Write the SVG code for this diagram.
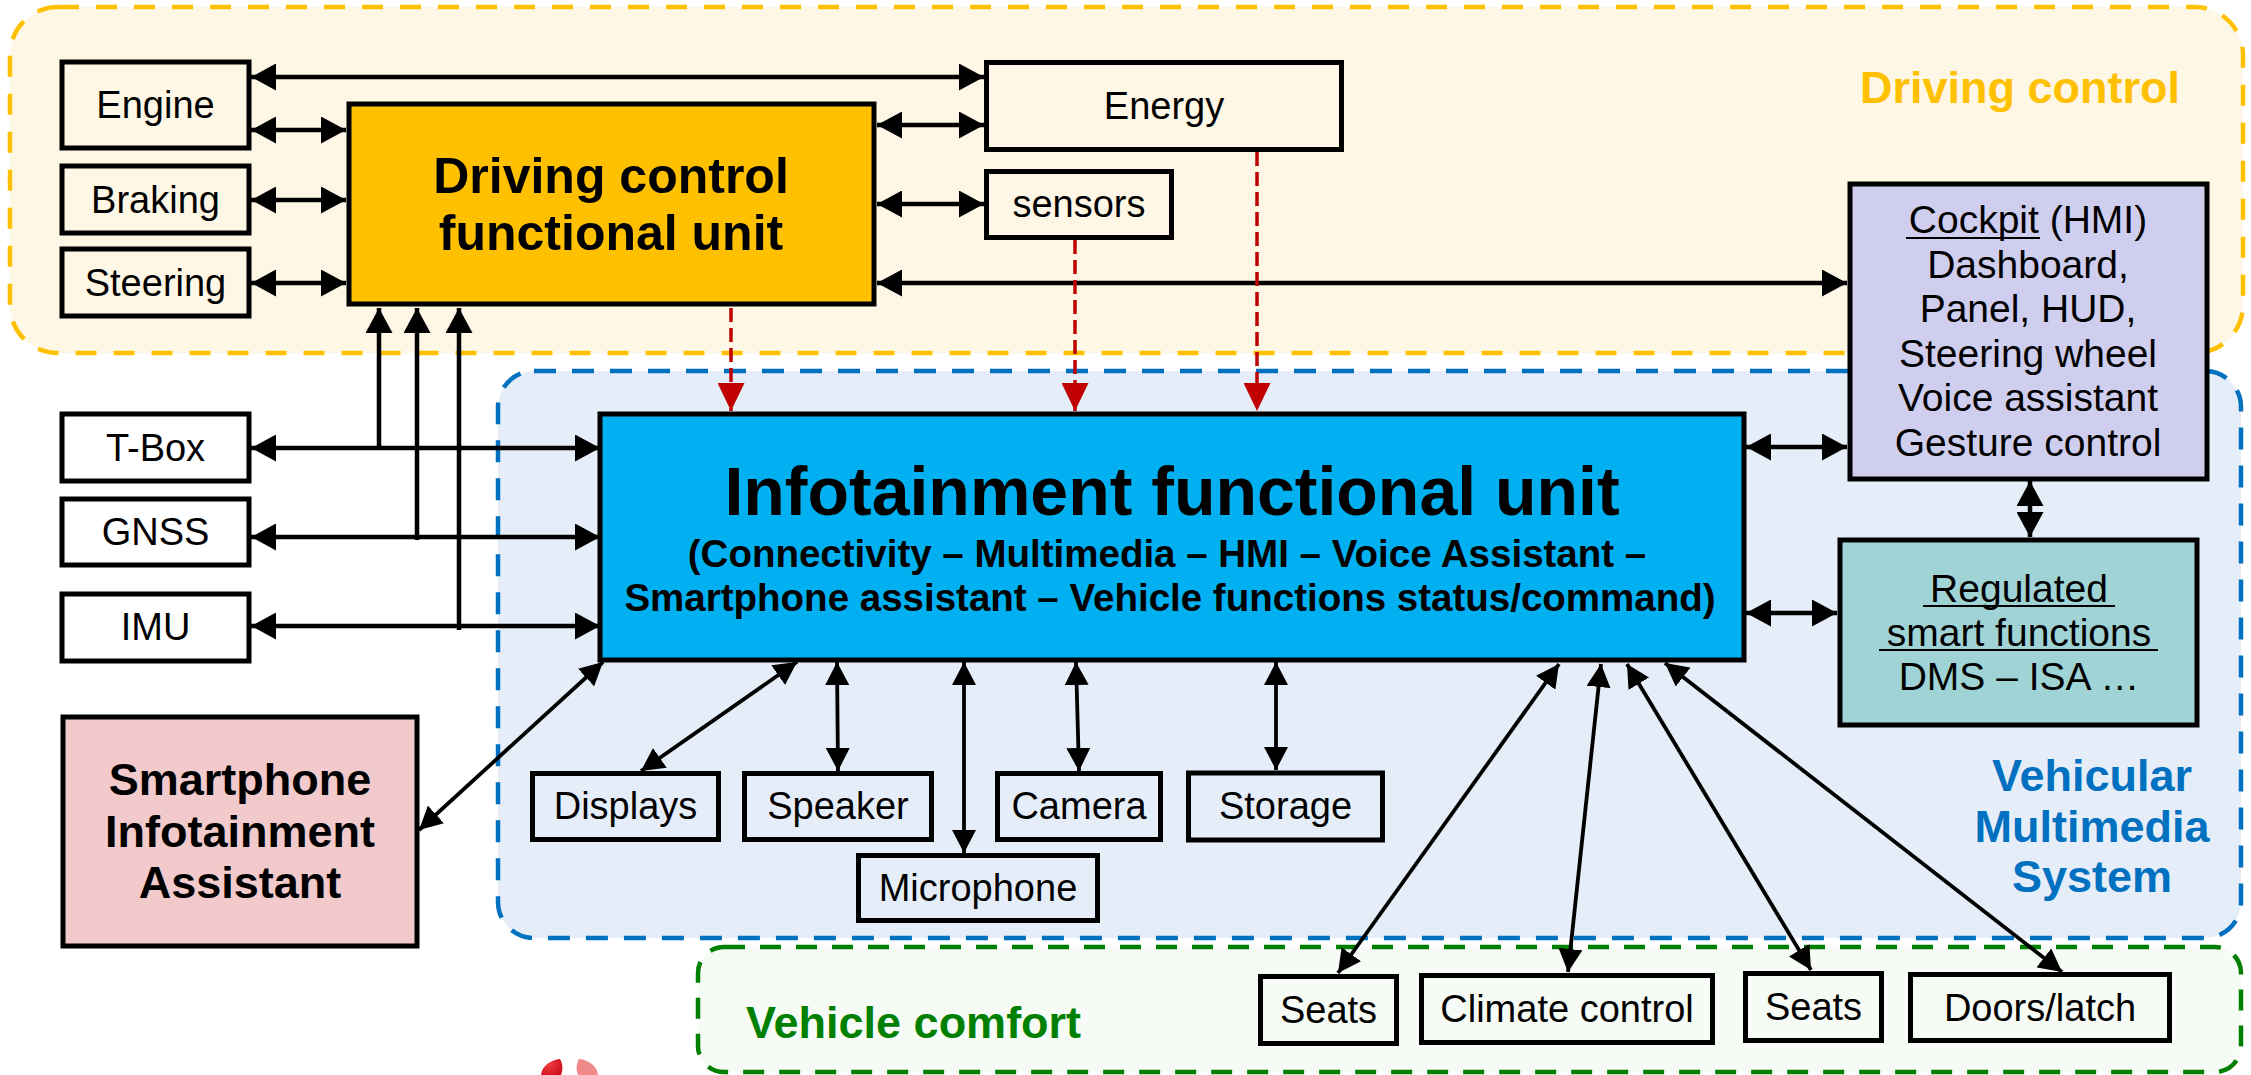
<svg xmlns="http://www.w3.org/2000/svg" width="2251" height="1075" viewBox="0 0 2251 1075">
<style>
.box{stroke:#000;stroke-width:5;fill:none}
.lb{font-family:"Liberation Sans",Arial,sans-serif;font-size:38px;fill:#000;text-anchor:middle}
.lm{font-family:"Liberation Sans",Arial,sans-serif;font-size:39px;fill:#000;text-anchor:middle}
.bd{font-family:"Liberation Sans",Arial,sans-serif;font-weight:bold;fill:#000;text-anchor:middle}
.ln{stroke:#000;stroke-width:4.5;fill:none;marker-start:url(#ah);marker-end:url(#ah)}
.ls{stroke:#000;stroke-width:3.8;fill:none;marker-start:url(#as);marker-end:url(#as)}
.up{stroke:#000;stroke-width:4.5;fill:none;marker-end:url(#ah)}
.rd{stroke:#C00000;stroke-width:3.5;fill:none;stroke-dasharray:14 6;marker-end:url(#ar)}
.ul{stroke:#000;stroke-width:2}
</style>
<defs>
<marker id="ah" markerUnits="userSpaceOnUse" viewBox="0 0 25 27" markerWidth="25" markerHeight="27" refX="25" refY="13.5" orient="auto-start-reverse"><path d="M0 0L25 13.5L0 27z" fill="#000"/></marker>
<marker id="as" markerUnits="userSpaceOnUse" viewBox="0 0 23 24" markerWidth="23" markerHeight="24" refX="23" refY="12" orient="auto-start-reverse"><path d="M0 0L23 12L0 24z" fill="#000"/></marker>
<marker id="ar" markerUnits="userSpaceOnUse" viewBox="0 0 28 27" markerWidth="28" markerHeight="27" refX="28" refY="13.5" orient="auto"><path d="M0 0L28 13.5L0 27z" fill="#C00000"/></marker>
<radialGradient id="lg" cx="0.3" cy="0.3" r="0.8"><stop offset="0" stop-color="#F04040"/><stop offset="1" stop-color="#D01020"/></radialGradient>
</defs>

<g id="containers">
<rect id="driving-control-area" x="10" y="7" width="2233" height="346" rx="48" fill="#FFF7E5" stroke="#FFC000" stroke-width="4.5" stroke-dasharray="21 17"/>
<rect id="vehicular-multimedia-area" x="498" y="371" width="1743" height="567" rx="36" fill="#E5EEF8" stroke="#0070C0" stroke-width="4.5" stroke-dasharray="22 16"/>
<rect id="vehicle-comfort-area" x="698" y="947" width="1543" height="125" rx="26" fill="#F7FBF5" stroke="#008000" stroke-width="4.5" stroke-dasharray="21 15"/>
<text class="bd" x="2020" y="103" font-size="45" style="fill:#FFC000">Driving control</text>
<text class="bd" font-size="45" style="fill:#0070C0"><tspan x="2092" y="791">Vehicular</tspan><tspan x="2092" y="841.5">Multimedia</tspan><tspan x="2092" y="892">System</tspan></text>
<text class="bd" x="746" y="1038" font-size="45" style="fill:#008000;text-anchor:start">Vehicle comfort</text>
</g>

<g id="connectors">
<line class="ln" x1="251" y1="77" x2="984" y2="77"/>
<line class="ln" x1="251" y1="130" x2="346" y2="130"/>
<line class="ln" x1="251" y1="200" x2="346" y2="200"/>
<line class="ln" x1="251" y1="283" x2="346" y2="283"/>
<line class="ln" x1="877" y1="125" x2="984" y2="125"/>
<line class="ln" x1="877" y1="204" x2="984" y2="204"/>
<line class="ln" x1="877" y1="283" x2="1847" y2="283"/>
<line class="ln" x1="251" y1="448" x2="600" y2="448"/>
<line class="ln" x1="251" y1="537" x2="600" y2="537"/>
<line class="ln" x1="251" y1="626" x2="600" y2="626"/>
<line class="up" x1="379" y1="448" x2="379" y2="308"/>
<line class="up" x1="417" y1="540" x2="417" y2="308"/>
<line class="up" x1="459" y1="630" x2="459" y2="308"/>
<line class="rd" x1="731" y1="308" x2="731" y2="411"/>
<line class="rd" x1="1075" y1="240" x2="1075" y2="411"/>
<line class="rd" x1="1257" y1="152" x2="1257" y2="411"/>
<line class="ln" x1="1746" y1="447" x2="1847" y2="447"/>
<line class="ln" x1="1746" y1="613" x2="1837" y2="613"/>
<line class="ln" x1="2030" y1="481" x2="2030" y2="537"/>
<line class="ls" x1="603" y1="662" x2="419" y2="830"/>
<line class="ls" x1="797" y1="662" x2="641" y2="771"/>
<line class="ls" x1="837" y1="662" x2="838" y2="771"/>
<line class="ls" x1="964" y1="662" x2="964" y2="853"/>
<line class="ls" x1="1076" y1="662" x2="1079" y2="771"/>
<line class="ls" x1="1276" y1="662" x2="1276" y2="770"/>
<line class="ls" x1="1559" y1="664" x2="1338" y2="973"/>
<line class="ls" x1="1601" y1="664" x2="1568" y2="972"/>
<line class="ls" x1="1627" y1="664" x2="1811" y2="970"/>
<line class="ls" x1="1665" y1="663" x2="2062" y2="972"/>
</g>

<g id="engine"><rect class="box" x="62" y="62" width="187" height="86"/><text class="lb" x="155.5" y="118">Engine</text></g>
<g id="braking"><rect class="box" x="62" y="166" width="187" height="67"/><text class="lb" x="155.5" y="213">Braking</text></g>
<g id="steering"><rect class="box" x="62" y="249" width="187" height="67"/><text class="lb" x="155.5" y="296">Steering</text></g>
<g id="driving-control-unit"><rect class="box" x="349" y="104" width="525" height="200" style="fill:#FFC000"/><text class="bd" font-size="50"><tspan x="611" y="193">Driving control</tspan><tspan x="611" y="250">functional unit</tspan></text></g>
<g id="energy"><rect class="box" x="986.5" y="62.5" width="355" height="87"/><text class="lb" x="1164" y="119">Energy</text></g>
<g id="sensors"><rect class="box" x="986.5" y="171.5" width="185" height="66"/><text class="lb" x="1079" y="217">sensors</text></g>
<g id="cockpit"><rect class="box" x="1850" y="184" width="357" height="295" style="fill:#CFCEEE"/>
<text class="lm"><tspan x="2028" y="233">Cockpit (HMI)</tspan><tspan x="2028" y="277.5">Dashboard,</tspan><tspan x="2028" y="322">Panel, HUD,</tspan><tspan x="2028" y="366.5">Steering wheel</tspan><tspan x="2028" y="411">Voice assistant</tspan><tspan x="2028" y="455.5">Gesture control</tspan></text>
<line class="ul" x1="1906" y1="238" x2="2040" y2="238"/></g>
<g id="tbox"><rect class="box" x="62" y="414" width="187" height="67"/><text class="lb" x="155.5" y="461">T-Box</text></g>
<g id="gnss"><rect class="box" x="62" y="499" width="187" height="66"/><text class="lb" x="155.5" y="545">GNSS</text></g>
<g id="imu"><rect class="box" x="62" y="594" width="187" height="67"/><text class="lb" x="155.5" y="640">IMU</text></g>
<g id="infotainment-unit"><rect class="box" x="600" y="414" width="1144" height="246" style="fill:#00B0F0"/>
<text class="bd" x="1172" y="515" font-size="68">Infotainment functional unit</text>
<text class="bd" x="1167" y="567" font-size="38.5">(Connectivity – Multimedia – HMI – Voice Assistant –</text>
<text class="bd" x="1170" y="611" font-size="38.5">Smartphone assistant – Vehicle functions status/command)</text></g>
<g id="regulated"><rect class="box" x="1840" y="540" width="357" height="185" style="fill:#A0D3D6"/>
<text class="lm"><tspan x="2019" y="602">Regulated</tspan><tspan x="2019" y="646">smart functions</tspan><tspan x="2019" y="690">DMS – ISA …</tspan></text>
<line class="ul" x1="1923" y1="606" x2="2115" y2="606"/><line class="ul" x1="1879" y1="650" x2="2158" y2="650"/></g>
<g id="smartphone"><rect class="box" x="63" y="717" width="354" height="229" style="fill:#F2CACB"/>
<text class="bd" font-size="45"><tspan x="240" y="795">Smartphone</tspan><tspan x="240" y="846.5">Infotainment</tspan><tspan x="240" y="898">Assistant</tspan></text></g>
<g id="displays"><rect class="box" x="532.5" y="773.5" width="186" height="66"/><text class="lb" x="625.5" y="819">Displays</text></g>
<g id="speaker"><rect class="box" x="744.5" y="773.5" width="187" height="66"/><text class="lb" x="838" y="819">Speaker</text></g>
<g id="camera"><rect class="box" x="997.5" y="773.5" width="163" height="66"/><text class="lb" x="1079" y="819">Camera</text></g>
<g id="storage"><rect class="box" x="1188.5" y="773" width="194" height="67"/><text class="lb" x="1285.5" y="819">Storage</text></g>
<g id="microphone"><rect class="box" x="858.5" y="855.5" width="239" height="65"/><text class="lb" x="978" y="901">Microphone</text></g>
<g id="seats1"><rect class="box" x="1260.5" y="976.5" width="136" height="67"/><text class="lb" x="1328.5" y="1023">Seats</text></g>
<g id="climate"><rect class="box" x="1421.5" y="975.5" width="291" height="67"/><text class="lb" x="1567" y="1022">Climate control</text></g>
<g id="seats2"><rect class="box" x="1745.5" y="973.5" width="136" height="67"/><text class="lb" x="1813.5" y="1020">Seats</text></g>
<g id="doors"><rect class="box" x="1910.5" y="974.5" width="259" height="66"/><text class="lb" x="2040" y="1021">Doors/latch</text></g>

<g id="logo-fragment">
<path d="M541 1075 C542 1066 550 1060 560 1059 C563 1064 563 1070 561 1075 Z" fill="url(#lg)"/>
<path d="M598 1075 C597 1066 589 1060 579 1059 C576 1064 576 1070 578 1075 Z" fill="#F08A8A"/>
</g>
</svg>
